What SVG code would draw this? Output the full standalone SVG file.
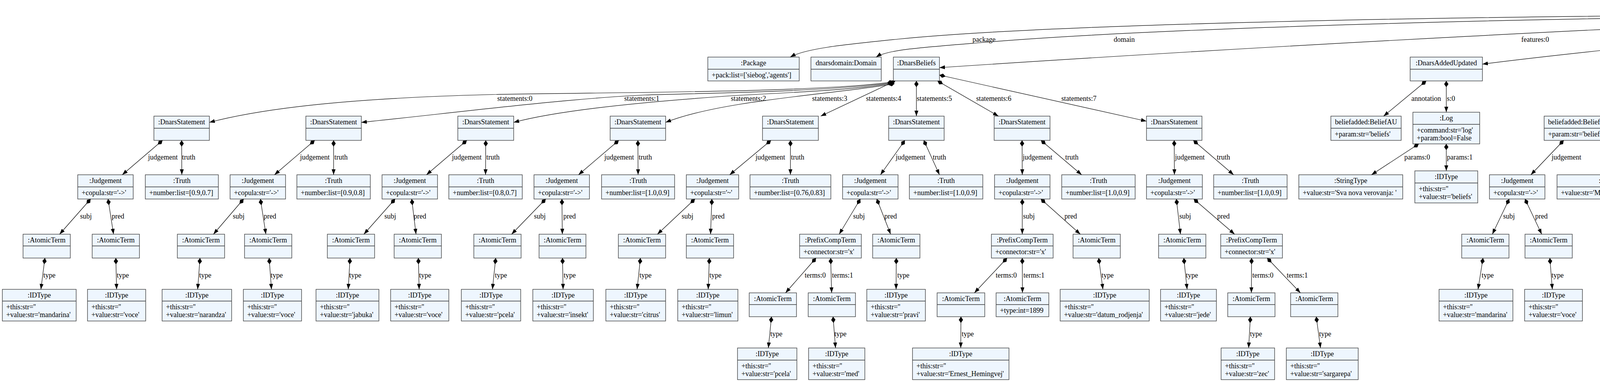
<svg xmlns="http://www.w3.org/2000/svg" width="7409" height="977" viewBox="0 0 7409 977">
<style>
text{font-family:"Liberation Serif","Times New Roman",serif;font-size:18px;fill:#000}
.b{fill:#eef6fe;stroke:#333;stroke-width:1.3}
.d{stroke:#333;stroke-width:1.3}
.h{text-anchor:middle}
.m{text-anchor:middle}
.e{fill:none;stroke:#000;stroke-width:1.2;marker-start:url(#dia);marker-end:url(#arr)}
</style>
<defs>
<marker id="arr" markerWidth="16" markerHeight="12" refX="14" refY="5" orient="auto" markerUnits="userSpaceOnUse"><path d="M0,0L14,5L0,10z" fill="#000"/></marker>
<marker id="dia" markerWidth="18" markerHeight="12" refX="0" refY="5.5" orient="auto" markerUnits="userSpaceOnUse"><path d="M0,5.5L8,0L16,5.5L8,11z" fill="#000"/></marker>
</defs>
<rect width="7409" height="977" fill="#fff"/>
<g id="nodes">
<g id="root"><rect class="b" x="4870" y="5" width="205" height="62"/><line class="d" x1="4870" y1="36" x2="5075" y2="36"/><text class="h" x="4972.5" y="26">DnarsAgent:AgentModel</text><text x="4878" y="57">importScripts:list=[]</text></g>
<g id="pkg"><rect class="b" x="1812" y="146" width="234" height="61"/><line class="d" x1="1812" y1="177" x2="2046" y2="177"/><text class="h" x="1929" y="167">:Package</text><text x="1822" y="198">+pack:list=['siebog','agents']</text></g>
<g id="dom"><rect class="b" x="2076" y="146" width="180" height="61"/><line class="d" x1="2076" y1="177" x2="2256" y2="177"/><text class="h" x="2166" y="167">dnarsdomain:Domain</text></g>
<g id="bel"><rect class="b" x="2287" y="146" width="118" height="61"/><line class="d" x1="2287" y1="177" x2="2405" y2="177"/><text class="h" x="2346" y="167">:DnarsBeliefs</text></g>
<g id="f1"><rect class="b" x="3610" y="146" width="185" height="61"/><line class="d" x1="3610" y1="177" x2="3795" y2="177"/><text class="h" x="3702.5" y="167">:DnarsAddedUpdated</text></g>
<g id="f2"><rect class="b" x="4290" y="146" width="185" height="61"/><line class="d" x1="4290" y1="177" x2="4475" y2="177"/><text class="h" x="4382.5" y="167">:DnarsAddedUpdated</text></g>
<g id="f3"><rect class="b" x="4761" y="146" width="186" height="61"/><line class="d" x1="4761" y1="177" x2="4947" y2="177"/><text class="h" x="4854" y="167">:DnarsAddedUpdated</text></g>
<g id="f4"><rect class="b" x="4998" y="146" width="185" height="61"/><line class="d" x1="4998" y1="177" x2="5183" y2="177"/><text class="h" x="5090.5" y="167">:DnarsAddedUpdated</text></g>
<g id="f5"><rect class="b" x="5674" y="146" width="184" height="61"/><line class="d" x1="5674" y1="177" x2="5858" y2="177"/><text class="h" x="5766" y="167">:DnarsAddedUpdated</text></g>
<g id="q6"><rect class="b" x="5939" y="136" width="142" height="81"/><line class="d" x1="5939" y1="167" x2="6081" y2="167"/><text class="h" x="6010" y="157">:DnarsQuestion</text><text x="5949" y="188">+answer:str='t1'</text><text x="5949" y="208">+num:int=0</text></g>
<g id="q7"><rect class="b" x="6136" y="136" width="140" height="81"/><line class="d" x1="6136" y1="167" x2="6276" y2="167"/><text class="h" x="6206" y="157">:DnarsQuestion</text><text x="6146" y="188">+answer:str='t2'</text><text x="6146" y="208">+num:int=3</text></g>
<g id="i8"><rect class="b" x="6319" y="136" width="143" height="81"/><line class="d" x1="6319" y1="167" x2="6462" y2="167"/><text class="h" x="6390.5" y="157">:DnarsInference</text><text x="6329" y="188">+answer:str='s1'</text><text x="6329" y="208">+num:int=0</text></g>
<g id="i9"><rect class="b" x="6615" y="136" width="143" height="81"/><line class="d" x1="6615" y1="167" x2="6758" y2="167"/><text class="h" x="6686.5" y="157">:DnarsInference</text><text x="6625" y="188">+answer:str='s2'</text><text x="6625" y="208">+num:int=2</text></g>

<g id="s0"><rect class="b" x="394" y="297" width="142" height="62"/><line class="d" x1="394" y1="328" x2="536" y2="328"/><text class="h" x="465" y="318">:DnarsStatement</text></g>
<g id="s1"><rect class="b" x="783" y="297" width="142" height="62"/><line class="d" x1="783" y1="328" x2="925" y2="328"/><text class="h" x="854" y="318">:DnarsStatement</text></g>
<g id="s2"><rect class="b" x="1172" y="297" width="143" height="62"/><line class="d" x1="1172" y1="328" x2="1315" y2="328"/><text class="h" x="1243.5" y="318">:DnarsStatement</text></g>
<g id="s3"><rect class="b" x="1562" y="297" width="142" height="62"/><line class="d" x1="1562" y1="328" x2="1704" y2="328"/><text class="h" x="1633" y="318">:DnarsStatement</text></g>
<g id="s4"><rect class="b" x="1952" y="297" width="143" height="62"/><line class="d" x1="1952" y1="328" x2="2095" y2="328"/><text class="h" x="2023.5" y="318">:DnarsStatement</text></g>
<g id="s5"><rect class="b" x="2275" y="297" width="142" height="62"/><line class="d" x1="2275" y1="328" x2="2417" y2="328"/><text class="h" x="2346" y="318">:DnarsStatement</text></g>
<g id="s6"><rect class="b" x="2545" y="297" width="143" height="62"/><line class="d" x1="2545" y1="328" x2="2688" y2="328"/><text class="h" x="2616.5" y="318">:DnarsStatement</text></g>
<g id="s7"><rect class="b" x="2935" y="297" width="142" height="62"/><line class="d" x1="2935" y1="328" x2="3077" y2="328"/><text class="h" x="3006" y="318">:DnarsStatement</text></g>
<g id="ba1"><rect class="b" x="3407" y="297" width="180" height="62"/><line class="d" x1="3407" y1="328" x2="3587" y2="328"/><text class="h" x="3497" y="318">beliefadded:BeliefAU</text><text x="3417" y="349">+param:str='beliefs'</text></g>
<g id="log1"><rect class="b" x="3617" y="287" width="171" height="81"/><line class="d" x1="3617" y1="318" x2="3788" y2="318"/><text class="h" x="3702.5" y="308">:Log</text><text x="3627" y="339">+command:str='log'</text><text x="3627" y="359">+param:bool=False</text></g>
<g id="ba2"><rect class="b" x="3953" y="297" width="179" height="62"/><line class="d" x1="3953" y1="328" x2="4132" y2="328"/><text class="h" x="4042.5" y="318">beliefadded:BeliefAU</text><text x="3963" y="349">+param:str='beliefs'</text></g>
<g id="log2"><rect class="b" x="4297" y="287" width="171" height="81"/><line class="d" x1="4297" y1="318" x2="4468" y2="318"/><text class="h" x="4382.5" y="308">:Log</text><text x="4307" y="339">+command:str='log'</text><text x="4307" y="359">+param:bool=False</text></g>
<g id="ba3"><rect class="b" x="4528" y="297" width="180" height="62"/><line class="d" x1="4528" y1="328" x2="4708" y2="328"/><text class="h" x="4618" y="318">beliefadded:BeliefAU</text><text x="4538" y="349">+param:str='beliefs'</text></g>
<g id="log3"><rect class="b" x="4768" y="287" width="173" height="81"/><line class="d" x1="4768" y1="318" x2="4941" y2="318"/><text class="h" x="4854.5" y="308">:Log</text><text x="4778" y="339">+command:str='log'</text><text x="4778" y="359">+param:bool=False</text></g>
<g id="bu4"><rect class="b" x="4994" y="297" width="193" height="62"/><line class="d" x1="4994" y1="328" x2="5187" y2="328"/><text class="h" x="5090.5" y="318">beliefupdated:BeliefAU</text><text x="5004" y="349">+param:str='beliefs'</text></g>
<g id="log4"><rect class="b" x="5239" y="287" width="171" height="81"/><line class="d" x1="5239" y1="318" x2="5410" y2="318"/><text class="h" x="5324.5" y="308">:Log</text><text x="5249" y="339">+command:str='log'</text><text x="5249" y="359">+param:bool=False</text></g>
<g id="bu5"><rect class="b" x="5670" y="297" width="193" height="62"/><line class="d" x1="5670" y1="328" x2="5863" y2="328"/><text class="h" x="5766.5" y="318">beliefupdated:BeliefAU</text><text x="5680" y="349">+param:str='beliefs'</text></g>
<g id="log5"><rect class="b" x="5919" y="287" width="172" height="81"/><line class="d" x1="5919" y1="318" x2="6091" y2="318"/><text class="h" x="6005" y="308">:Log</text><text x="5929" y="339">+command:str='log'</text><text x="5929" y="359">+param:bool=False</text></g>
<g id="pq6"><rect class="b" x="6157" y="297" width="142" height="62"/><line class="d" x1="6157" y1="328" x2="6299" y2="328"/><text class="h" x="6228" y="318">:PostQuestion</text><text x="6167" y="349">+copula:str='-&gt;'</text></g>
<g id="prq7"><rect class="b" x="6363" y="297" width="143" height="62"/><line class="d" x1="6363" y1="328" x2="6506" y2="328"/><text class="h" x="6434.5" y="318">:PreQuestion</text><text x="6373" y="349">+copula:str='-&gt;'</text></g>
<g id="j8"><rect class="b" x="6701" y="297" width="142" height="62"/><line class="d" x1="6701" y1="328" x2="6843" y2="328"/><text class="h" x="6772" y="318">:Judgement</text><text x="6711" y="349">+copula:str='-&gt;'</text></g>
<g id="j9"><rect class="b" x="7073" y="297" width="142" height="62"/><line class="d" x1="7073" y1="328" x2="7215" y2="328"/><text class="h" x="7144" y="318">:Judgement</text><text x="7083" y="349">+copula:str='-&gt;'</text></g>

<g id="s0j"><rect class="b" x="199" y="447" width="142" height="62"/><line class="d" x1="199" y1="478" x2="341" y2="478"/><text class="h" x="270" y="468">:Judgement</text><text x="209" y="499">+copula:str='-&gt;'</text></g>
<g id="s0t"><rect class="b" x="372" y="447" width="187" height="62"/><line class="d" x1="372" y1="478" x2="559" y2="478"/><text class="h" x="465.5" y="468">:Truth</text><text x="382" y="499">+number:list=[0.9,0.7]</text></g>
<g id="s1j"><rect class="b" x="589" y="447" width="142" height="62"/><line class="d" x1="589" y1="478" x2="731" y2="478"/><text class="h" x="660" y="468">:Judgement</text><text x="599" y="499">+copula:str='-&gt;'</text></g>
<g id="s1t"><rect class="b" x="760" y="447" width="188" height="62"/><line class="d" x1="760" y1="478" x2="948" y2="478"/><text class="h" x="854" y="468">:Truth</text><text x="770" y="499">+number:list=[0.9,0.8]</text></g>
<g id="s2j"><rect class="b" x="978" y="447" width="142" height="62"/><line class="d" x1="978" y1="478" x2="1120" y2="478"/><text class="h" x="1049" y="468">:Judgement</text><text x="988" y="499">+copula:str='-&gt;'</text></g>
<g id="s2t"><rect class="b" x="1149" y="447" width="188" height="62"/><line class="d" x1="1149" y1="478" x2="1337" y2="478"/><text class="h" x="1243" y="468">:Truth</text><text x="1159" y="499">+number:list=[0.8,0.7]</text></g>
<g id="s3j"><rect class="b" x="1367" y="447" width="142" height="62"/><line class="d" x1="1367" y1="478" x2="1509" y2="478"/><text class="h" x="1438" y="468">:Judgement</text><text x="1377" y="499">+copula:str='-&gt;'</text></g>
<g id="s3t"><rect class="b" x="1540" y="447" width="187" height="62"/><line class="d" x1="1540" y1="478" x2="1727" y2="478"/><text class="h" x="1633.5" y="468">:Truth</text><text x="1550" y="499">+number:list=[1.0,0.9]</text></g>
<g id="s4j"><rect class="b" x="1757" y="447" width="134" height="62"/><line class="d" x1="1757" y1="478" x2="1891" y2="478"/><text class="h" x="1824" y="468">:Judgement</text><text x="1767" y="499">+copula:str='~'</text></g>
<g id="s4t"><rect class="b" x="1920" y="447" width="207" height="62"/><line class="d" x1="1920" y1="478" x2="2127" y2="478"/><text class="h" x="2023.5" y="468">:Truth</text><text x="1930" y="499">+number:list=[0.76,0.83]</text></g>
<g id="s5j"><rect class="b" x="2157" y="447" width="142" height="62"/><line class="d" x1="2157" y1="478" x2="2299" y2="478"/><text class="h" x="2228" y="468">:Judgement</text><text x="2167" y="499">+copula:str='-&gt;'</text></g>
<g id="s5t"><rect class="b" x="2328" y="447" width="188" height="62"/><line class="d" x1="2328" y1="478" x2="2516" y2="478"/><text class="h" x="2422" y="468">:Truth</text><text x="2338" y="499">+number:list=[1.0,0.9]</text></g>
<g id="s6j"><rect class="b" x="2546" y="447" width="142" height="62"/><line class="d" x1="2546" y1="478" x2="2688" y2="478"/><text class="h" x="2617" y="468">:Judgement</text><text x="2556" y="499">+copula:str='-&gt;'</text></g>
<g id="s6t"><rect class="b" x="2718" y="447" width="188" height="62"/><line class="d" x1="2718" y1="478" x2="2906" y2="478"/><text class="h" x="2812" y="468">:Truth</text><text x="2728" y="499">+number:list=[1.0,0.9]</text></g>
<g id="s7j"><rect class="b" x="2935" y="447" width="143" height="62"/><line class="d" x1="2935" y1="478" x2="3078" y2="478"/><text class="h" x="3006.5" y="468">:Judgement</text><text x="2945" y="499">+copula:str='-&gt;'</text></g>
<g id="s7t"><rect class="b" x="3107" y="447" width="188" height="62"/><line class="d" x1="3107" y1="478" x2="3295" y2="478"/><text class="h" x="3201" y="468">:Truth</text><text x="3117" y="499">+number:list=[1.0,0.9]</text></g>
<g id="st1"><rect class="b" x="3325" y="447" width="266" height="62"/><line class="d" x1="3325" y1="478" x2="3591" y2="478"/><text class="h" x="3458" y="468">:StringType</text><text x="3335" y="499">+value:str='Sva nova verovanja: '</text></g>
<g id="id1"><rect class="b" x="3622" y="437" width="161" height="82"/><line class="d" x1="3622" y1="468" x2="3783" y2="468"/><text class="h" x="3702.5" y="458">:IDType</text><text x="3632" y="489">+this:str=''</text><text x="3632" y="509">+value:str='beliefs'</text></g>
<g id="j2"><rect class="b" x="3813" y="447" width="142" height="62"/><line class="d" x1="3813" y1="478" x2="3955" y2="478"/><text class="h" x="3884" y="468">:Judgement</text><text x="3823" y="499">+copula:str='-&gt;'</text></g>
<g id="st2"><rect class="b" x="3986" y="447" width="298" height="62"/><line class="d" x1="3986" y1="478" x2="4284" y2="478"/><text class="h" x="4135" y="468">:StringType</text><text x="3996" y="499">+value:str='Mandarina je vrsta voca: '</text></g>
<g id="id2"><rect class="b" x="4314" y="437" width="161" height="82"/><line class="d" x1="4314" y1="468" x2="4475" y2="468"/><text class="h" x="4394.5" y="458">:IDType</text><text x="4324" y="489">+this:str=''</text><text x="4324" y="509">+value:str='beliefs'</text></g>
<g id="j3"><rect class="b" x="4504" y="447" width="143" height="62"/><line class="d" x1="4504" y1="478" x2="4647" y2="478"/><text class="h" x="4575.5" y="468">:Judgement</text><text x="4514" y="499">+copula:str='-&gt;'</text></g>
<g id="st3"><rect class="b" x="4678" y="447" width="273" height="62"/><line class="d" x1="4678" y1="478" x2="4951" y2="478"/><text class="h" x="4814.5" y="468">:StringType</text><text x="4688" y="499">+value:str='Banana je vrsta voca: '</text></g>
<g id="id3"><rect class="b" x="4982" y="437" width="161" height="82"/><line class="d" x1="4982" y1="468" x2="5143" y2="468"/><text class="h" x="5062.5" y="458">:IDType</text><text x="4992" y="489">+this:str=''</text><text x="4992" y="509">+value:str='beliefs'</text></g>
<g id="st4"><rect class="b" x="5172" y="447" width="302" height="62"/><line class="d" x1="5172" y1="478" x2="5474" y2="478"/><text class="h" x="5323" y="468">:StringType</text><text x="5182" y="499">+value:str='Sva izmenjena verovanja: '</text></g>
<g id="id4"><rect class="b" x="5504" y="437" width="161" height="82"/><line class="d" x1="5504" y1="468" x2="5665" y2="468"/><text class="h" x="5584.5" y="458">:IDType</text><text x="5514" y="489">+this:str=''</text><text x="5514" y="509">+value:str='beliefs'</text></g>
<g id="j5"><rect class="b" x="5696" y="447" width="142" height="62"/><line class="d" x1="5696" y1="478" x2="5838" y2="478"/><text class="h" x="5767" y="468">:Judgement</text><text x="5706" y="499">+copula:str='-&gt;'</text></g>
<g id="st5"><rect class="b" x="5868" y="447" width="274" height="62"/><line class="d" x1="5868" y1="478" x2="6142" y2="478"/><text class="h" x="6005" y="468">:StringType</text><text x="5878" y="499">+value:str='Izmenjeno verovanje: '</text></g>
<g id="id5"><rect class="b" x="6173" y="437" width="161" height="82"/><line class="d" x1="6173" y1="468" x2="6334" y2="468"/><text class="h" x="6253.5" y="458">:IDType</text><text x="6183" y="489">+this:str=''</text><text x="6183" y="509">+value:str='beliefs'</text></g>
<g id="ic6"><rect class="b" x="6363" y="447" width="143" height="62"/><line class="d" x1="6363" y1="478" x2="6506" y2="478"/><text class="h" x="6434.5" y="468">:ImgCompTerm</text><text x="6373" y="499">+image:str='\\'</text></g>
<g id="at7"><rect class="b" x="6536" y="447" width="120" height="62"/><line class="d" x1="6536" y1="478" x2="6656" y2="478"/><text class="h" x="6596" y="468">:AtomicTerm</text></g>
<g id="a8s"><rect class="b" x="6711" y="447" width="121" height="62"/><line class="d" x1="6711" y1="478" x2="6832" y2="478"/><text class="h" x="6771.5" y="468">:AtomicTerm</text></g>
<g id="a8p"><rect class="b" x="6880" y="447" width="120" height="62"/><line class="d" x1="6880" y1="478" x2="7000" y2="478"/><text class="h" x="6940" y="468">:AtomicTerm</text></g>
<g id="a9s"><rect class="b" x="7083" y="447" width="121" height="62"/><line class="d" x1="7083" y1="478" x2="7204" y2="478"/><text class="h" x="7143.5" y="468">:AtomicTerm</text></g>
<g id="a9p"><rect class="b" x="7252" y="447" width="120" height="62"/><line class="d" x1="7252" y1="478" x2="7372" y2="478"/><text class="h" x="7312" y="468">:AtomicTerm</text></g>

<g id="s0a"><rect class="b" x="59" y="599" width="121" height="61"/><line class="d" x1="59" y1="629" x2="180" y2="629"/><text class="h" x="119.5" y="620">:AtomicTerm</text></g>
<g id="s0b"><rect class="b" x="236" y="599" width="121" height="61"/><line class="d" x1="236" y1="629" x2="357" y2="629"/><text class="h" x="296.5" y="620">:AtomicTerm</text></g>
<g id="s1a"><rect class="b" x="454" y="599" width="121" height="61"/><line class="d" x1="454" y1="629" x2="575" y2="629"/><text class="h" x="514.5" y="620">:AtomicTerm</text></g>
<g id="s1b"><rect class="b" x="626" y="599" width="121" height="61"/><line class="d" x1="626" y1="629" x2="747" y2="629"/><text class="h" x="686.5" y="620">:AtomicTerm</text></g>
<g id="s2a"><rect class="b" x="838" y="599" width="121" height="61"/><line class="d" x1="838" y1="629" x2="959" y2="629"/><text class="h" x="898.5" y="620">:AtomicTerm</text></g>
<g id="s2b"><rect class="b" x="1009" y="599" width="121" height="61"/><line class="d" x1="1009" y1="629" x2="1130" y2="629"/><text class="h" x="1069.5" y="620">:AtomicTerm</text></g>
<g id="s3a"><rect class="b" x="1213" y="599" width="121" height="61"/><line class="d" x1="1213" y1="629" x2="1334" y2="629"/><text class="h" x="1273.5" y="620">:AtomicTerm</text></g>
<g id="s3b"><rect class="b" x="1380" y="599" width="120" height="61"/><line class="d" x1="1380" y1="629" x2="1500" y2="629"/><text class="h" x="1440" y="620">:AtomicTerm</text></g>
<g id="s4a"><rect class="b" x="1583" y="599" width="121" height="61"/><line class="d" x1="1583" y1="629" x2="1704" y2="629"/><text class="h" x="1643.5" y="620">:AtomicTerm</text></g>
<g id="s4b"><rect class="b" x="1757" y="599" width="121" height="61"/><line class="d" x1="1757" y1="629" x2="1878" y2="629"/><text class="h" x="1817.5" y="620">:AtomicTerm</text></g>
<g id="s5p"><rect class="b" x="2047" y="599" width="158" height="61"/><line class="d" x1="2047" y1="629" x2="2205" y2="629"/><text class="h" x="2126" y="620">:PrefixCompTerm</text><text x="2057" y="650">+connector:str='x'</text></g>
<g id="s5b"><rect class="b" x="2234" y="599" width="121" height="61"/><line class="d" x1="2234" y1="629" x2="2355" y2="629"/><text class="h" x="2294.5" y="620">:AtomicTerm</text></g>
<g id="s6p"><rect class="b" x="2538" y="599" width="158" height="61"/><line class="d" x1="2538" y1="629" x2="2696" y2="629"/><text class="h" x="2617" y="620">:PrefixCompTerm</text><text x="2548" y="650">+connector:str='x'</text></g>
<g id="s6b"><rect class="b" x="2747" y="599" width="121" height="61"/><line class="d" x1="2747" y1="629" x2="2868" y2="629"/><text class="h" x="2807.5" y="620">:AtomicTerm</text></g>
<g id="s7a"><rect class="b" x="2966" y="599" width="121" height="61"/><line class="d" x1="2966" y1="629" x2="3087" y2="629"/><text class="h" x="3026.5" y="620">:AtomicTerm</text></g>
<g id="s7p"><rect class="b" x="3125" y="599" width="158" height="61"/><line class="d" x1="3125" y1="629" x2="3283" y2="629"/><text class="h" x="3204" y="620">:PrefixCompTerm</text><text x="3135" y="650">+connector:str='x'</text></g>
<g id="j2a"><rect class="b" x="3742" y="599" width="121" height="61"/><line class="d" x1="3742" y1="629" x2="3863" y2="629"/><text class="h" x="3802.5" y="620">:AtomicTerm</text></g>
<g id="j2b"><rect class="b" x="3904" y="599" width="121" height="61"/><line class="d" x1="3904" y1="629" x2="4025" y2="629"/><text class="h" x="3964.5" y="620">:AtomicTerm</text></g>
<g id="j3a"><rect class="b" x="4431" y="599" width="121" height="61"/><line class="d" x1="4431" y1="629" x2="4552" y2="629"/><text class="h" x="4491.5" y="620">:AtomicTerm</text></g>
<g id="j3b"><rect class="b" x="4599" y="599" width="121" height="61"/><line class="d" x1="4599" y1="629" x2="4720" y2="629"/><text class="h" x="4659.5" y="620">:AtomicTerm</text></g>
<g id="j5p"><rect class="b" x="5590" y="599" width="158" height="61"/><line class="d" x1="5590" y1="629" x2="5748" y2="629"/><text class="h" x="5669" y="620">:PrefixCompTerm</text><text x="5600" y="650">+connector:str='x'</text></g>
<g id="j5b"><rect class="b" x="5778" y="599" width="121" height="61"/><line class="d" x1="5778" y1="629" x2="5899" y2="629"/><text class="h" x="5838.5" y="620">:AtomicTerm</text></g>
<g id="ic6a"><rect class="b" x="6201" y="599" width="120" height="61"/><line class="d" x1="6201" y1="629" x2="6321" y2="629"/><text class="h" x="6261" y="620">:AtomicTerm</text></g>
<g id="ic6pt"><rect class="b" x="6381" y="599" width="107" height="61"/><line class="d" x1="6381" y1="629" x2="6488" y2="629"/><text class="h" x="6434.5" y="620">:PostTerm</text><text x="6391" y="650">+plc:str='*'</text></g>
<g id="id7"><rect class="b" x="6518" y="589" width="148" height="81"/><line class="d" x1="6518" y1="620" x2="6666" y2="620"/><text class="h" x="6592" y="610">:IDType</text><text x="6528" y="641">+this:str=''</text><text x="6528" y="661">+value:str='voce'</text></g>
<g id="id8s"><rect class="b" x="6695" y="589" width="152" height="81"/><line class="d" x1="6695" y1="620" x2="6847" y2="620"/><text class="h" x="6771" y="610">:IDType</text><text x="6705" y="641">+this:str=''</text><text x="6705" y="661">+value:str='pcela'</text></g>
<g id="id8p"><rect class="b" x="6878" y="589" width="156" height="81"/><line class="d" x1="6878" y1="620" x2="7034" y2="620"/><text class="h" x="6956" y="610">:IDType</text><text x="6888" y="641">+this:str=''</text><text x="6888" y="661">+value:str='insekt'</text></g>
<g id="id9s"><rect class="b" x="7064" y="589" width="160" height="81"/><line class="d" x1="7064" y1="620" x2="7224" y2="620"/><text class="h" x="7144" y="610">:IDType</text><text x="7074" y="641">+this:str=''</text><text x="7074" y="661">+value:str='jabuka'</text></g>
<g id="id9p"><rect class="b" x="7255" y="589" width="147" height="81"/><line class="d" x1="7255" y1="620" x2="7402" y2="620"/><text class="h" x="7328.5" y="610">:IDType</text><text x="7265" y="641">+this:str=''</text><text x="7265" y="661">+value:str='voce'</text></g>

<g id="s0ai"><rect class="b" x="6" y="740" width="189" height="81"/><line class="d" x1="6" y1="770" x2="195" y2="770"/><text class="h" x="100.5" y="761">:IDType</text><text x="16" y="791">+this:str=''</text><text x="16" y="811">+value:str='mandarina'</text></g>
<g id="s0bi"><rect class="b" x="224" y="740" width="149" height="81"/><line class="d" x1="224" y1="770" x2="373" y2="770"/><text class="h" x="298.5" y="761">:IDType</text><text x="234" y="791">+this:str=''</text><text x="234" y="811">+value:str='voce'</text></g>
<g id="s1ai"><rect class="b" x="415" y="740" width="178" height="81"/><line class="d" x1="415" y1="770" x2="593" y2="770"/><text class="h" x="504" y="761">:IDType</text><text x="425" y="791">+this:str=''</text><text x="425" y="811">+value:str='narandza'</text></g>
<g id="s1bi"><rect class="b" x="623" y="740" width="149" height="81"/><line class="d" x1="623" y1="770" x2="772" y2="770"/><text class="h" x="697.5" y="761">:IDType</text><text x="633" y="791">+this:str=''</text><text x="633" y="811">+value:str='voce'</text></g>
<g id="s2ai"><rect class="b" x="809" y="740" width="161" height="81"/><line class="d" x1="809" y1="770" x2="970" y2="770"/><text class="h" x="889.5" y="761">:IDType</text><text x="819" y="791">+this:str=''</text><text x="819" y="811">+value:str='jabuka'</text></g>
<g id="s2bi"><rect class="b" x="1000" y="740" width="149" height="81"/><line class="d" x1="1000" y1="770" x2="1149" y2="770"/><text class="h" x="1074.5" y="761">:IDType</text><text x="1010" y="791">+this:str=''</text><text x="1010" y="811">+value:str='voce'</text></g>
<g id="s3ai"><rect class="b" x="1181" y="740" width="152" height="81"/><line class="d" x1="1181" y1="770" x2="1333" y2="770"/><text class="h" x="1257" y="761">:IDType</text><text x="1191" y="791">+this:str=''</text><text x="1191" y="811">+value:str='pcela'</text></g>
<g id="s3bi"><rect class="b" x="1364" y="740" width="155" height="81"/><line class="d" x1="1364" y1="770" x2="1519" y2="770"/><text class="h" x="1441.5" y="761">:IDType</text><text x="1374" y="791">+this:str=''</text><text x="1374" y="811">+value:str='insekt'</text></g>
<g id="s4ai"><rect class="b" x="1551" y="740" width="153" height="81"/><line class="d" x1="1551" y1="770" x2="1704" y2="770"/><text class="h" x="1627.5" y="761">:IDType</text><text x="1561" y="791">+this:str=''</text><text x="1561" y="811">+value:str='citrus'</text></g>
<g id="s4bi"><rect class="b" x="1735" y="740" width="154" height="81"/><line class="d" x1="1735" y1="770" x2="1889" y2="770"/><text class="h" x="1812" y="761">:IDType</text><text x="1745" y="791">+this:str=''</text><text x="1745" y="811">+value:str='limun'</text></g>
<g id="s5t0"><rect class="b" x="1918" y="749" width="121" height="61"/><line class="d" x1="1918" y1="779" x2="2039" y2="779"/><text class="h" x="1978.5" y="770">:AtomicTerm</text></g>
<g id="s5t1"><rect class="b" x="2069" y="749" width="121" height="61"/><line class="d" x1="2069" y1="779" x2="2190" y2="779"/><text class="h" x="2129.5" y="770">:AtomicTerm</text></g>
<g id="s5bi"><rect class="b" x="2219" y="740" width="150" height="81"/><line class="d" x1="2219" y1="770" x2="2369" y2="770"/><text class="h" x="2294" y="761">:IDType</text><text x="2229" y="791">+this:str=''</text><text x="2229" y="811">+value:str='pravi'</text></g>
<g id="s6t0"><rect class="b" x="2399" y="749" width="122" height="61"/><line class="d" x1="2399" y1="779" x2="2521" y2="779"/><text class="h" x="2460" y="770">:AtomicTerm</text></g>
<g id="s6t1"><rect class="b" x="2550" y="749" width="135" height="61"/><line class="d" x1="2550" y1="779" x2="2685" y2="779"/><text class="h" x="2617.5" y="770">:AtomicTerm</text><text x="2560" y="800">+type:int=1899</text></g>
<g id="s6bi"><rect class="b" x="2714" y="740" width="228" height="81"/><line class="d" x1="2714" y1="770" x2="2942" y2="770"/><text class="h" x="2828" y="761">:IDType</text><text x="2724" y="791">+this:str=''</text><text x="2724" y="811">+value:str='datum_rodjenja'</text></g>
<g id="s7ai"><rect class="b" x="2971" y="740" width="143" height="81"/><line class="d" x1="2971" y1="770" x2="3114" y2="770"/><text class="h" x="3042.5" y="761">:IDType</text><text x="2981" y="791">+this:str=''</text><text x="2981" y="811">+value:str='jede'</text></g>
<g id="s7t0"><rect class="b" x="3143" y="749" width="121" height="61"/><line class="d" x1="3143" y1="779" x2="3264" y2="779"/><text class="h" x="3203.5" y="770">:AtomicTerm</text></g>
<g id="s7t1"><rect class="b" x="3304" y="749" width="121" height="61"/><line class="d" x1="3304" y1="779" x2="3425" y2="779"/><text class="h" x="3364.5" y="770">:AtomicTerm</text></g>
<g id="j2ai"><rect class="b" x="3684" y="740" width="189" height="81"/><line class="d" x1="3684" y1="770" x2="3873" y2="770"/><text class="h" x="3778.5" y="761">:IDType</text><text x="3694" y="791">+this:str=''</text><text x="3694" y="811">+value:str='mandarina'</text></g>
<g id="j2bi"><rect class="b" x="3903" y="740" width="148" height="81"/><line class="d" x1="3903" y1="770" x2="4051" y2="770"/><text class="h" x="3977" y="761">:IDType</text><text x="3913" y="791">+this:str=''</text><text x="3913" y="811">+value:str='voce'</text></g>
<g id="j3ai"><rect class="b" x="4400" y="740" width="165" height="81"/><line class="d" x1="4400" y1="770" x2="4565" y2="770"/><text class="h" x="4482.5" y="761">:IDType</text><text x="4410" y="791">+this:str=''</text><text x="4410" y="811">+value:str='banana'</text></g>
<g id="j3bi"><rect class="b" x="4594" y="740" width="149" height="81"/><line class="d" x1="4594" y1="770" x2="4743" y2="770"/><text class="h" x="4668.5" y="761">:IDType</text><text x="4604" y="791">+this:str=''</text><text x="4604" y="811">+value:str='voce'</text></g>
<g id="j5t0"><rect class="b" x="5447" y="749" width="121" height="61"/><line class="d" x1="5447" y1="779" x2="5568" y2="779"/><text class="h" x="5507.5" y="770">:AtomicTerm</text></g>
<g id="j5t1"><rect class="b" x="5611" y="749" width="122" height="61"/><line class="d" x1="5611" y1="779" x2="5733" y2="779"/><text class="h" x="5672" y="770">:AtomicTerm</text></g>
<g id="j5bi"><rect class="b" x="5763" y="740" width="151" height="81"/><line class="d" x1="5763" y1="770" x2="5914" y2="770"/><text class="h" x="5838.5" y="761">:IDType</text><text x="5773" y="791">+this:str=''</text><text x="5773" y="811">+value:str='pravi'</text></g>
<g id="ic6ai"><rect class="b" x="6139" y="740" width="229" height="81"/><line class="d" x1="6139" y1="770" x2="6368" y2="770"/><text class="h" x="6253.5" y="761">:IDType</text><text x="6149" y="791">+this:str=''</text><text x="6149" y="811">+value:str='datum_rodjenja'</text></g>
<g id="ptA"><rect class="b" x="6397" y="749" width="121" height="61"/><line class="d" x1="6397" y1="779" x2="6518" y2="779"/><text class="h" x="6457.5" y="770">:AtomicTerm</text></g>

<g id="s5t0i"><rect class="b" x="1888" y="890" width="152" height="81"/><line class="d" x1="1888" y1="921" x2="2040" y2="921"/><text class="h" x="1964" y="911">:IDType</text><text x="1898" y="942">+this:str=''</text><text x="1898" y="962">+value:str='pcela'</text></g>
<g id="s5t1i"><rect class="b" x="2070" y="890" width="144" height="81"/><line class="d" x1="2070" y1="921" x2="2214" y2="921"/><text class="h" x="2142" y="911">:IDType</text><text x="2080" y="942">+this:str=''</text><text x="2080" y="962">+value:str='med'</text></g>
<g id="s6t0i"><rect class="b" x="2336" y="890" width="247" height="81"/><line class="d" x1="2336" y1="921" x2="2583" y2="921"/><text class="h" x="2459.5" y="911">:IDType</text><text x="2346" y="942">+this:str=''</text><text x="2346" y="962">+value:str='Ernest_Hemingvej'</text></g>
<g id="s7t0i"><rect class="b" x="3126" y="890" width="137" height="81"/><line class="d" x1="3126" y1="921" x2="3263" y2="921"/><text class="h" x="3194.5" y="911">:IDType</text><text x="3136" y="942">+this:str=''</text><text x="3136" y="962">+value:str='zec'</text></g>
<g id="s7t1i"><rect class="b" x="3293" y="890" width="184" height="81"/><line class="d" x1="3293" y1="921" x2="3477" y2="921"/><text class="h" x="3385" y="911">:IDType</text><text x="3303" y="942">+this:str=''</text><text x="3303" y="962">+value:str='sargarepa'</text></g>
<g id="j5t0i"><rect class="b" x="5425" y="890" width="152" height="81"/><line class="d" x1="5425" y1="921" x2="5577" y2="921"/><text class="h" x="5501" y="911">:IDType</text><text x="5435" y="942">+this:str=''</text><text x="5435" y="962">+value:str='pcela'</text></g>
<g id="j5t1i"><rect class="b" x="5607" y="890" width="146" height="81"/><line class="d" x1="5607" y1="921" x2="5753" y2="921"/><text class="h" x="5680" y="911">:IDType</text><text x="5617" y="942">+this:str=''</text><text x="5617" y="962">+value:str='med'</text></g>
<g id="ptAi"><rect class="b" x="6333" y="890" width="248" height="81"/><line class="d" x1="6333" y1="921" x2="6581" y2="921"/><text class="h" x="6457" y="911">:IDType</text><text x="6343" y="942">+this:str=''</text><text x="6343" y="962">+value:str='Ernest_Hemingvej'</text></g>
</g>

<g id="connectors">
<path class="e" d="M4867,37 C3800,38 2700,60 2300,100 C2150,115 2060,125 2023,146"/>
<path class="e" d="M4867,40 C3900,42 2900,75 2500,110 C2350,122 2270,128 2243,146"/>
<path class="e" d="M4867,45 C4400,55 3200,120 2405,173"/>
<path class="e" d="M4867,49 C4600,80 4100,125 3795,164"/>
<path class="e" d="M4867,58 C4750,90 4600,125 4475,152"/>
<path class="e" d="M4940,67 L4887,146"/>
<path class="e" d="M5002,67 L5062,146"/>
<path class="e" d="M5075,57 C5300,90 5500,125 5674,160"/>
<path class="e" d="M5075,42 C5450,60 5800,90 5939,153"/>
<path class="e" d="M5075,39 C5600,55 5950,80 6136,147"/>
<path class="e" d="M5075,38 C5800,45 6200,70 6319,142"/>
<path class="e" d="M5075,37 C5900,45 6400,70 6615,155"/>
<path class="e" d="M2287,209 C2100,238 1500,236 1250,242 C950,250 700,270 536,313"/>
<path class="e" d="M2288,211 C2100,236 1800,238 1650,243 C1450,252 1150,290 925,313"/>
<path class="e" d="M2289,212 C2150,236 1950,238 1830,248 C1600,265 1420,285 1315,313"/>
<path class="e" d="M2290,214 C2150,240 1850,255 1704,313"/>
<path class="e" d="M2292,207 L2101,297"/>
<path class="e" d="M2346,207 L2346,297"/>
<path class="e" d="M2400,207 L2556,297"/>
<path class="e" d="M2405,192 L2935,310"/>
<path class="e" d="M3651,207 L3542,297"/>
<path class="e" d="M3702.5,207 L3702.5,287"/>
<path class="e" d="M4298,207 L4117,297"/>
<path class="e" d="M4382.5,207 L4382.5,287"/>
<path class="e" d="M4795,207 L4670,297"/>
<path class="e" d="M4854,207 L4854.5,287"/>
<path class="e" d="M5090.5,207 L5090.5,297"/>
<path class="e" d="M5145,207 L5263,287"/>
<path class="e" d="M5766,207 L5766.5,297"/>
<path class="e" d="M5820,207 L5941,287"/>
<path class="e" d="M6072,217 L6184,297"/>
<path class="e" d="M6268,217 L6386,297"/>
<path class="e" d="M6462,208 L6701,303"/>
<path class="e" d="M6758,205 L7073,304"/>
<path class="e" d="M416,359 L313,447"/>
<path class="e" d="M465,359 L465.5,447"/>
<path class="e" d="M805.5,359 L702.7,447"/>
<path class="e" d="M854,359 L854,447"/>
<path class="e" d="M1195,359 L1091.8,447"/>
<path class="e" d="M1243.5,359 L1243,447"/>
<path class="e" d="M1584,359 L1481,447"/>
<path class="e" d="M1633,359 L1633.5,447"/>
<path class="e" d="M1973.6,359 L1868,447"/>
<path class="e" d="M2023.5,359 L2023.5,447"/>
<path class="e" d="M2316.5,359 L2254,447"/>
<path class="e" d="M2365,359 L2405,447"/>
<path class="e" d="M2616.5,359 L2617,447"/>
<path class="e" d="M2665,359 L2769,447"/>
<path class="e" d="M3006,359 L3006.5,447"/>
<path class="e" d="M3055,359 L3158,447"/>
<path class="e" d="M3632,368 L3511,447"/>
<path class="e" d="M3702.5,368 L3702.5,437"/>
<path class="e" d="M4003,359 L3919,447"/>
<path class="e" d="M4310,368 L4186,447"/>
<path class="e" d="M4385.5,368 L4392,437"/>
<path class="e" d="M4607,359 L4585,447"/>
<path class="e" d="M4844.5,368 L4823,447"/>
<path class="e" d="M4912,368 L5008,437"/>
<path class="e" d="M5324,368 L5323,447"/>
<path class="e" d="M5398,368 L5514,437"/>
<path class="e" d="M5766.5,359 L5767,447"/>
<path class="e" d="M6005,368 L6005,447"/>
<path class="e" d="M6075,368 L6184,437"/>
<path class="e" d="M6284,359 L6388,447"/>
<path class="e" d="M6472,359 L6561,447"/>
<path class="e" d="M6771.5,359 L6771.5,447"/>
<path class="e" d="M6811,359 L6903,447"/>
<path class="e" d="M7144,359 L7144,447"/>
<path class="e" d="M7184,359 L7276,447"/>
<path class="e" d="M232,509 L152.6,599"/>
<path class="e" d="M276.6,509 L290.7,599"/>
<path class="e" d="M623.6,509 L546.5,599"/>
<path class="e" d="M666.6,509 L680.7,599"/>
<path class="e" d="M1011.4,509 L931.6,599"/>
<path class="e" d="M1054,509 L1065,599"/>
<path class="e" d="M1397,509 L1309.7,599"/>
<path class="e" d="M1438.5,509 L1439.6,599"/>
<path class="e" d="M1779,509 L1683,599"/>
<path class="e" d="M1822.4,509 L1819,599"/>
<path class="e" d="M2202.5,509 L2148.4,599"/>
<path class="e" d="M2244.6,509 L2280,599"/>
<path class="e" d="M2617,509 L2617,599"/>
<path class="e" d="M2664.6,509 L2765.6,599"/>
<path class="e" d="M3011.5,509 L3022,599"/>
<path class="e" d="M3056,509 L3160.6,599"/>
<path class="e" d="M3863.6,509 L3820.4,599"/>
<path class="e" d="M3904,509 L3946.8,599"/>
<path class="e" d="M4554.5,509 L4510,599"/>
<path class="e" d="M4596.5,509 L4641,599"/>
<path class="e" d="M5742.5,509 L5690.6,599"/>
<path class="e" d="M5785,509 L5822.8,599"/>
<path class="e" d="M6391,509 L6299,599"/>
<path class="e" d="M6434.5,509 L6434.5,599"/>
<path class="e" d="M6595,509 L6593,589"/>
<path class="e" d="M6771.5,509 L6771,589"/>
<path class="e" d="M6944,509 L6952.5,589"/>
<path class="e" d="M7143.5,509 L7144,589"/>
<path class="e" d="M7316,509 L7325,589"/>
<path class="e" d="M115,660 L104.7,740"/>
<path class="e" d="M296.5,660 L298.5,740"/>
<path class="e" d="M512,660 L506,740"/>
<path class="e" d="M689,660 L695,740"/>
<path class="e" d="M896,660 L891.5,740"/>
<path class="e" d="M1071,660 L1073,740"/>
<path class="e" d="M1269,660 L1260.6,740"/>
<path class="e" d="M1440,660 L1441.5,740"/>
<path class="e" d="M1639.5,660 L1631,740"/>
<path class="e" d="M1816,660 L1813,740"/>
<path class="e" d="M2089,660 L2011,749"/>
<path class="e" d="M2126.5,660 L2129,749"/>
<path class="e" d="M2294.5,660 L2294,740"/>
<path class="e" d="M2578,660 L2494.5,749"/>
<path class="e" d="M2617,660 L2617.5,749"/>
<path class="e" d="M2812.6,660 L2823.5,740"/>
<path class="e" d="M3030.5,660 L3039,740"/>
<path class="e" d="M3204,660 L3203.5,749"/>
<path class="e" d="M3244,660 L3329,749"/>
<path class="e" d="M3796.5,660 L3783.8,740"/>
<path class="e" d="M3967.6,660 L3974,740"/>
<path class="e" d="M4489,660 L4484.5,740"/>
<path class="e" d="M4662,660 L4666.5,740"/>
<path class="e" d="M5628.6,660 L5543,749"/>
<path class="e" d="M5669.5,660 L5672,749"/>
<path class="e" d="M5838.5,660 L5838.5,740"/>
<path class="e" d="M6259,660 L6255,740"/>
<path class="e" d="M6440,660 L6452.5,749"/>
<path class="e" d="M1975,810 L1967,890"/>
<path class="e" d="M2132.6,810 L2139,890"/>
<path class="e" d="M2460,810 L2459.5,890"/>
<path class="e" d="M3201,810 L3196.5,890"/>
<path class="e" d="M3369.6,810 L3380.5,890"/>
<path class="e" d="M5506,810 L5502.5,890"/>
<path class="e" d="M5674,810 L5678,890"/>
<path class="e" d="M6457.5,810 L6457,890"/>

<g id="labels">
<text class="m" x="2519" y="107">package</text>
<text class="m" x="2878" y="107">domain</text>
<text class="m" x="3930" y="107">features:0</text>
<text class="m" x="4487" y="107">features:1</text>
<text class="m" x="4766" y="107">features:2</text>
<text class="m" x="4960" y="107">features:3</text>
<text class="m" x="5071" y="107">features:4</text>
<text class="m" x="5428" y="107">features:5</text>
<text class="m" x="5763" y="107">features:6</text>
<text class="m" x="6012" y="107">features:7</text>
<text class="m" x="6234" y="107">features:8</text>
<text class="m" x="6438" y="107">features:9</text>
<text class="m" x="1318" y="258">statements:0</text>
<text class="m" x="1643" y="258">statements:1</text>
<text class="m" x="1916" y="258">statements:2</text>
<text class="m" x="2124" y="258">statements:3</text>
<text class="m" x="2262" y="258">statements:4</text>
<text class="m" x="2392" y="258">statements:5</text>
<text class="m" x="2544" y="258">statements:6</text>
<text class="m" x="2762" y="258">statements:7</text>
<text x="3613" y="258">annotation</text><text x="3704" y="258">s:0</text>
<text x="4232" y="258">annotation</text><text x="4384" y="258">s:0</text>
<text x="4752" y="258">annotation</text><text x="4856" y="258">s:0</text>
<text x="5092" y="258">annotation</text><text x="5221" y="258">s:0</text>
<text x="5768" y="258">annotation</text><text x="5900" y="258">s:0</text>
<text x="6133" y="258">question</text><text x="6335" y="258">question</text>
<text x="6604" y="258">judgement</text><text x="6943" y="258">judgement</text>
<text x="379" y="408">judgement</text><text x="466" y="408">truth</text>
<text x="768" y="408">judgement</text><text x="856" y="408">truth</text>
<text x="1157" y="408">judgement</text><text x="1245" y="408">truth</text>
<text x="1547" y="408">judgement</text><text x="1635" y="408">truth</text>
<text x="1934" y="408">judgement</text><text x="2025" y="408">truth</text>
<text x="2293" y="408">judgement</text><text x="2388" y="408">truth</text>
<text x="2618" y="408">judgement</text><text x="2727" y="408">truth</text>
<text x="3008" y="408">judgement</text><text x="3115" y="408">truth</text>
<text x="3595" y="408">params:0</text><text x="3704" y="408">params:1</text>
<text x="3972" y="408">judgement</text>
<text x="4274" y="408">params:0</text><text x="4390" y="408">params:1</text>
<text x="4598" y="408">judgement</text>
<text x="4836" y="408">params:0</text><text x="4971" y="408">params:1</text>
<text x="5326" y="408">params:0</text><text x="5470" y="408">params:1</text>
<text x="5768" y="408">judgement</text>
<text x="6007" y="408">params:0</text><text x="6144" y="408">params:1</text>
<text x="6355" y="408">term</text><text x="6524" y="408">term</text>
<text x="6773" y="408">subj</text><text x="6866" y="408">pred</text>
<text x="7146" y="408">subj</text><text x="7236" y="408">pred</text>
<text x="205" y="559">subj</text><text x="286" y="559">pred</text>
<text x="596" y="559">subj</text><text x="675" y="559">pred</text>
<text x="984" y="559">subj</text><text x="1059" y="559">pred</text>
<text x="1367" y="559">subj</text><text x="1442" y="559">pred</text>
<text x="1745" y="559">subj</text><text x="1823" y="559">pred</text>
<text x="2184" y="559">subj</text><text x="2264" y="559">pred</text>
<text x="2619" y="559">subj</text><text x="2725" y="559">pred</text>
<text x="3019" y="559">subj</text><text x="3116" y="559">pred</text>
<text x="3848" y="559">subj</text><text x="3930" y="559">pred</text>
<text x="4539" y="559">subj</text><text x="4623" y="559">pred</text>
<text x="5724" y="559">subj</text><text x="5806" y="559">pred</text>
<text x="6358" y="559">term</text><text x="6437" y="559">option</text>
<text x="6597" y="559">type</text>
<text x="6773" y="559">type</text><text x="6949" y="559">type</text>
<text x="7146" y="559">type</text><text x="7320" y="559">type</text>
<text x="111" y="710">type</text><text x="299" y="710">type</text>
<text x="510" y="710">type</text><text x="693" y="710">type</text>
<text x="894" y="710">type</text><text x="1073" y="710">type</text>
<text x="1267" y="710">type</text><text x="1443" y="710">type</text>
<text x="1637" y="710">type</text><text x="1816" y="710">type</text>
<text x="2060" y="710">terms:0</text><text x="2130" y="710">terms:1</text><text x="2297" y="710">type</text>
<text x="2549" y="710">terms:0</text><text x="2620" y="710">terms:1</text><text x="2820" y="710">type</text>
<text x="3036" y="710">type</text><text x="3206" y="710">terms:0</text><text x="3294" y="710">terms:1</text>
<text x="3793" y="710">type</text><text x="3972" y="710">type</text>
<text x="4487" y="710">type</text><text x="4664" y="710">type</text>
<text x="5599" y="710">terms:0</text><text x="5675" y="710">terms:1</text><text x="5841" y="710">type</text>
<text x="6260" y="710">type</text><text x="6447" y="710">term</text>
<text x="1972" y="860">type</text><text x="2136" y="860">type</text>
<text x="2462" y="860">type</text>
<text x="3200" y="860">type</text><text x="3377" y="860">type</text>
<text x="5506" y="860">type</text><text x="5679" y="860">type</text>
<text x="6459" y="860">type</text>
</g>
</g>
</svg>
